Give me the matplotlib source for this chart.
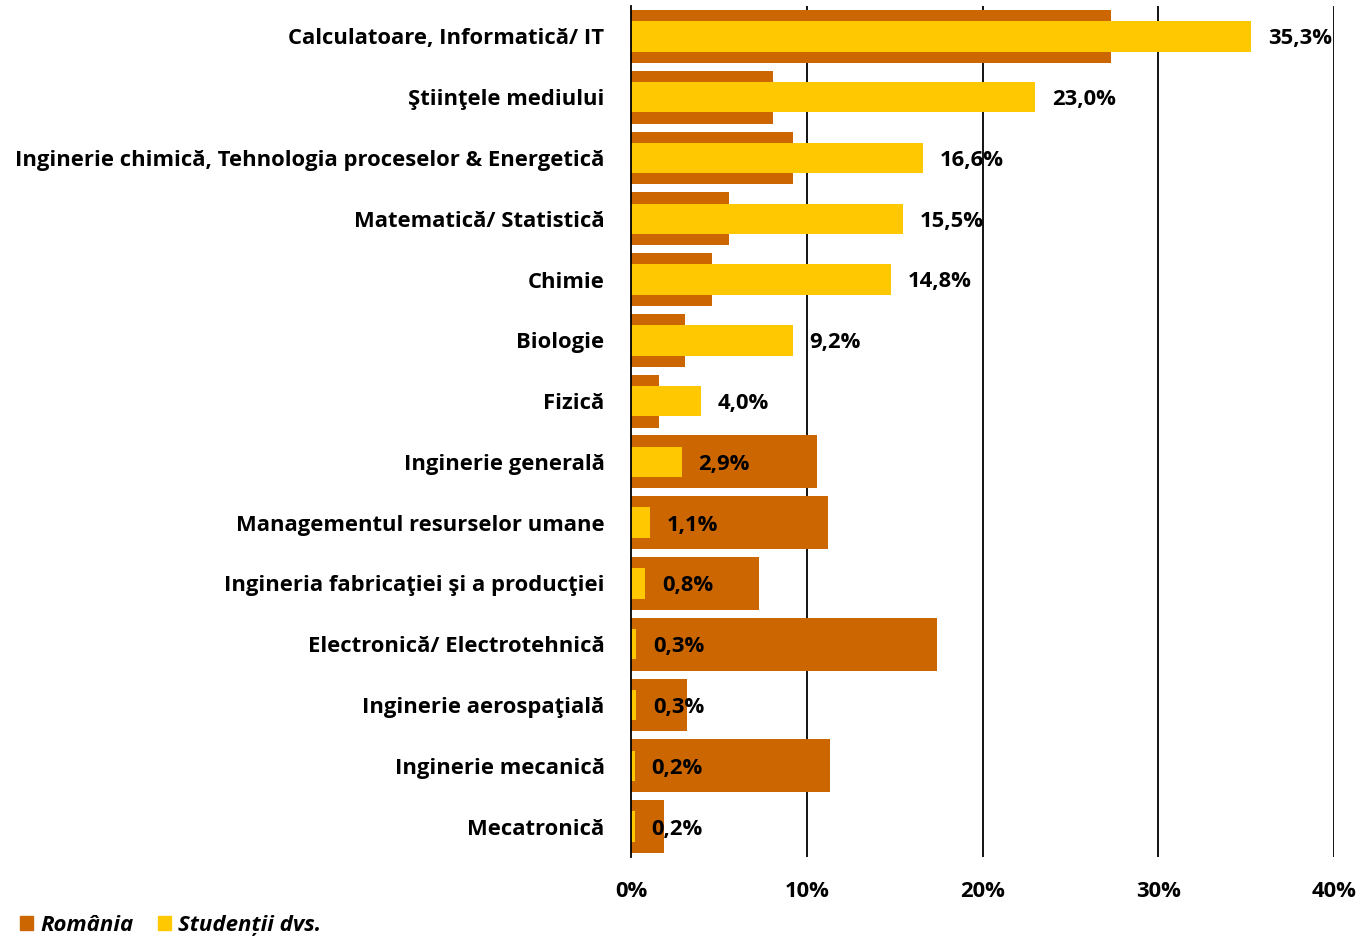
import numpy as np
import matplotlib
matplotlib.use("Agg")
import matplotlib.pyplot as plt
from matplotlib.patches import Patch

CATEGORIES = [
    "Calculatoare, Informatică/ IT",
    "Ştiinţele mediului",
    "Inginerie chimică, Tehnologia proceselor & Energetică",
    "Matematică/ Statistică",
    "Chimie",
    "Biologie",
    "Fizică",
    "Inginerie generală",
    "Managementul resurselor umane",
    "Ingineria fabricaţiei şi a producţiei",
    "Electronică/ Electrotehnică",
    "Inginerie aerospaţială",
    "Inginerie mecanică",
    "Mecatronică",
]
ROMANIA = [27.3, 8.1, 9.2, 5.6, 4.6, 3.1, 1.6, 10.6, 11.2, 7.3, 17.4, 3.2, 11.3, 1.9]
STUDENTI = [35.3, 23.0, 16.6, 15.5, 14.8, 9.2, 4.0, 2.9, 1.1, 0.8, 0.3, 0.3, 0.2, 0.2]
VALUE_LABELS = ["35,3%", "23,0%", "16,6%", "15,5%", "14,8%", "9,2%", "4,0%",
                "2,9%", "1,1%", "0,8%", "0,3%", "0,3%", "0,2%", "0,2%"]
XTICKS = [0, 10, 20, 30, 40]

C_RO = "#CC6600"
C_ST = "#FFC800"
FONT = "Open Sans"
FS = 15.8

fig = plt.figure(figsize=(13.65, 9.41), dpi=100)
ax = fig.add_axes([631 / 1365, 1 - 857 / 941, (1334 - 631) / 1365, (857 - 6) / 941])

y = np.arange(len(CATEGORIES))
ax.barh(y, ROMANIA, height=0.87, color=C_RO, zorder=2)
ax.barh(y, STUDENTI, height=0.5, color=C_ST, zorder=3)

for yi, v, lab in zip(y, STUDENTI, VALUE_LABELS):
    ax.text(v + 0.95, yi + 0.04, lab, ha="left", va="center", fontsize=FS,
            fontweight="bold", family=FONT, color="black", zorder=4)

ax.set_xlim(0, 40)
ax.set_ylim(len(CATEGORIES) - 0.5, -0.5)
ax.set_xticks(XTICKS)
ax.set_xticklabels([f"{t}%" for t in XTICKS], fontsize=FS, fontweight="bold", family=FONT)
ax.set_yticks(y)
ax.set_yticklabels(CATEGORIES, fontsize=FS, fontweight="bold", family=FONT)
ax.tick_params(axis="both", length=0)
ax.tick_params(axis="y", pad=19)
ax.tick_params(axis="x", pad=17)
for t in XTICKS[1:]:
    ax.axvline(t, color="black", linewidth=1.3, zorder=1)
for s in ["top", "right", "bottom"]:
    ax.spines[s].set_visible(False)
ax.spines["left"].set_linewidth(1.3)
ax.spines["left"].set_zorder(5)

handles = [Patch(color=C_RO, label="România"), Patch(color=C_ST, label="Studenții dvs.")]
fig.legend(handles=handles, loc="lower left", bbox_to_anchor=(0.0, -0.016), ncol=2,
           frameon=False, handlelength=0.6, handleheight=0.6, handletextpad=0.3,
           columnspacing=1.1, prop={"family": FONT, "weight": "bold", "style": "italic", "size": 16})

fig.savefig("out.png", dpi=100)
